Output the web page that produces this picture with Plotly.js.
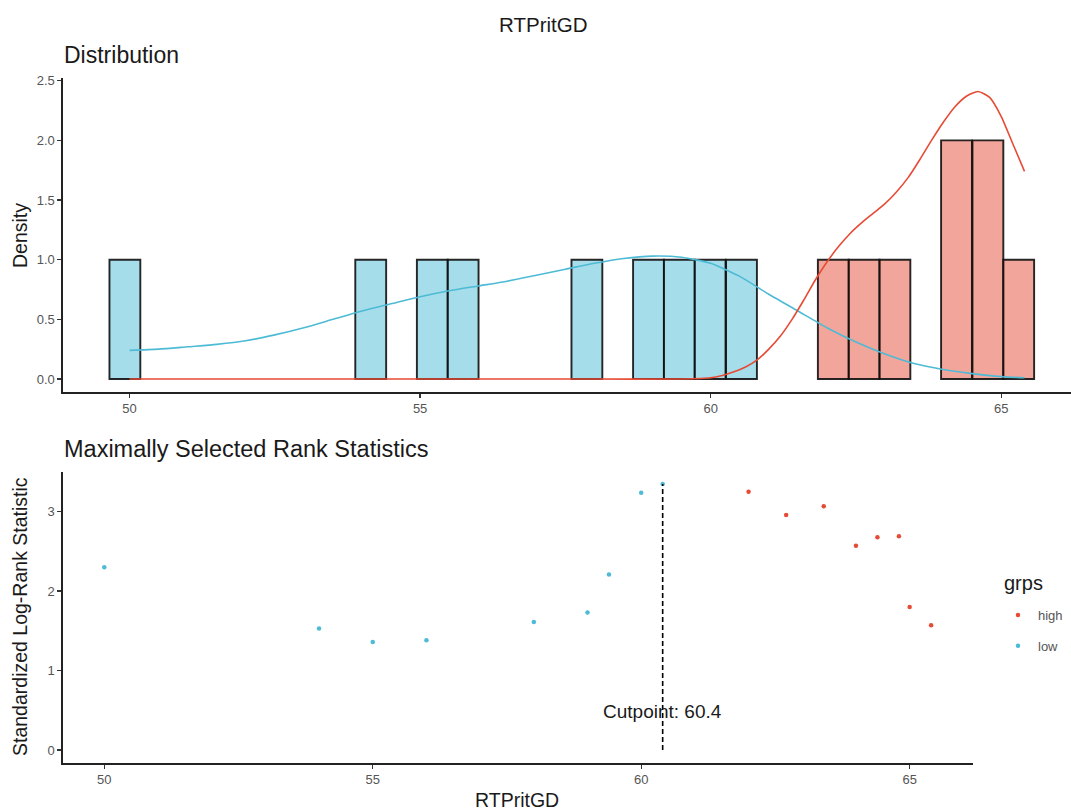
<!DOCTYPE html>
<html>
<head>
<meta charset="utf-8">
<script src="https://cdn.plot.ly/plotly-3.0.1.min.js"></script>
<style>
  html, body { margin: 0; padding: 0; background: #ffffff; }
  #chart { width: 1071px; height: 812px; }
</style>
</head>
<body>
<div id="chart"></div>
<script>
// ---- Histogram (top panel) ----
const binWidth = 0.531;
const lowBinCenters  = [49.92, 54.15, 55.21, 55.74, 57.87, 58.93, 59.46, 59.99, 60.53];
const lowBinCounts   = [1, 1, 1, 1, 1, 1, 1, 1, 1];
const highBinCenters = [62.11, 62.64, 63.17, 64.23, 64.77, 65.30];
const highBinCounts  = [1, 1, 1, 2, 2, 1];

// ---- Density curves (top panel) ----
const densLowX  = [50.0, 50.5, 51.0, 51.5, 52.0, 52.5, 53.0, 53.5, 54.0, 54.5, 55.0, 55.5, 56.0, 56.5, 57.0, 57.5, 58.0, 58.5, 59.0, 59.5, 60.0, 60.5, 61.0, 61.5, 62.0, 62.5, 63.0, 63.5, 64.0, 64.5, 65.0, 65.4];
const densLowY  = [0.24, 0.25, 0.27, 0.29, 0.32, 0.37, 0.43, 0.50, 0.57, 0.63, 0.69, 0.74, 0.78, 0.82, 0.87, 0.92, 0.97, 1.01, 1.03, 1.02, 0.97, 0.86, 0.71, 0.57, 0.43, 0.31, 0.21, 0.13, 0.08, 0.045, 0.02, 0.01];
const densHighX = [50.0, 55.0, 58.0, 59.5, 60.0, 60.2, 60.4, 60.6, 60.8, 61.0, 61.2, 61.4, 61.6, 61.8, 62.0, 62.2, 62.4, 62.6, 62.8, 63.0, 63.2, 63.4, 63.6, 63.8, 64.0, 64.2, 64.4, 64.6, 64.8, 65.0, 65.2, 65.4];
const densHighY = [0.0, 0.0, 0.0, 0.0, 0.01, 0.03, 0.06, 0.10, 0.16, 0.25, 0.36, 0.50, 0.66, 0.83, 0.98, 1.11, 1.22, 1.31, 1.39, 1.47, 1.57, 1.69, 1.84, 2.00, 2.15, 2.28, 2.37, 2.41, 2.36, 2.20, 1.97, 1.74];

// ---- Maximally selected rank statistics (bottom panel) ----
const statLowX  = [50.0, 54.0, 55.0, 56.0, 58.0, 59.0, 59.4, 60.0, 60.4];
const statLowY  = [2.30, 1.53, 1.36, 1.38, 1.61, 1.73, 2.21, 3.24, 3.35];
const statHighX = [62.0, 62.7, 63.4, 64.0, 64.4, 64.8, 65.0, 65.4];
const statHighY = [3.25, 2.96, 3.07, 2.57, 2.68, 2.69, 1.80, 1.57];
const cutpoint = 60.4;

const xTicks = [50, 55, 60, 65];
const densTicks = [0, 0.5, 1, 1.5, 2, 2.5];
const statTicks = [0, 1, 2, 3];

const RED = '#E64B35', BLUE = '#4DBBD5';
const FONT = 'Liberation Sans, Arial, sans-serif';

const traces = [
  { type: 'bar', x: lowBinCenters, y: lowBinCounts, width: binWidth, xaxis: 'x', yaxis: 'y',
    marker: { color: 'rgba(77,187,213,0.5)', line: { color: 'rgba(15,15,15,0.9)', width: 1.9 } },
    showlegend: false, hoverinfo: 'skip' },
  { type: 'bar', x: highBinCenters, y: highBinCounts, width: binWidth, xaxis: 'x', yaxis: 'y',
    marker: { color: 'rgba(230,75,53,0.5)', line: { color: 'rgba(15,15,15,0.9)', width: 1.9 } },
    showlegend: false, hoverinfo: 'skip' },
  { type: 'scatter', mode: 'lines', x: densLowX, y: densLowY, xaxis: 'x', yaxis: 'y',
    line: { color: BLUE, width: 1.6, shape: 'spline', smoothing: 0.6 }, showlegend: false, hoverinfo: 'skip' },
  { type: 'scatter', mode: 'lines', x: densHighX, y: densHighY, xaxis: 'x', yaxis: 'y',
    line: { color: RED, width: 1.6, shape: 'spline', smoothing: 0.6 }, showlegend: false, hoverinfo: 'skip' },
  { type: 'scatter', mode: 'markers', name: 'high', legendgroup: 'high', x: statHighX, y: statHighY,
    xaxis: 'x2', yaxis: 'y2', marker: { color: RED, size: 4.5 } },
  { type: 'scatter', mode: 'markers', name: 'low', legendgroup: 'low', x: statLowX, y: statLowY,
    xaxis: 'x2', yaxis: 'y2', marker: { color: BLUE, size: 4.5 } },
  { type: 'scatter', mode: 'lines', x: [cutpoint, cutpoint], y: [0, Math.max(...statLowY, ...statHighY)],
    xaxis: 'x2', yaxis: 'y2', line: { color: 'black', width: 1.6, dash: '5px,3px' },
    showlegend: false, hoverinfo: 'skip' }
];

const W = 1071, H = 812;
const axisCommon = {
  showline: true, linecolor: '#222', linewidth: 1.6, mirror: false,
  ticks: 'outside', ticklen: 4, tickwidth: 1.3, tickcolor: '#333',
  showgrid: false, zeroline: false,
  tickfont: { family: FONT, size: 13, color: '#555' }
};

const layout = {
  width: W, height: H,
  margin: { l: 0, r: 0, t: 0, b: 0 },
  paper_bgcolor: 'white', plot_bgcolor: 'white',
  barmode: 'overlay', bargap: 0,
  font: { family: FONT, color: '#1a1a1a' },
  xaxis: Object.assign({}, axisCommon, { domain: [63 / W, 1], range: [48.855, 66.2], anchor: 'y',
    tickvals: xTicks }),
  yaxis: Object.assign({}, axisCommon, { domain: [(H - 392) / H, (H - 78) / H], range: [-0.109, 2.523], anchor: 'x',
    tickvals: densTicks, tickformat: '.1f' }),
  xaxis2: Object.assign({}, axisCommon, { domain: [63 / W, 973 / W], range: [49.231, 66.18], anchor: 'y2',
    tickvals: xTicks }),
  yaxis2: Object.assign({}, axisCommon, { domain: [(H - 763) / H, (H - 472) / H], range: [-0.164, 3.50], anchor: 'x2',
    tickvals: statTicks }),
  showlegend: true,
  legend: {
    x: 998 / W, xanchor: 'left', y: (H - 600) / H, yanchor: 'top',
    font: { family: FONT, size: 13, color: '#555' },
    traceorder: 'grouped', tracegroupgap: 11, itemwidth: 30, bgcolor: 'rgba(0,0,0,0)'
  },
  annotations: [
    { text: 'RTPritGD', xref: 'paper', yref: 'paper', x: 543 / W, y: (H - 25) / H,
      xanchor: 'center', yanchor: 'middle', showarrow: false, font: { family: FONT, size: 20.5, color: '#1a1a1a' } },
    { text: 'Distribution', xref: 'paper', yref: 'paper', x: 62 / W, y: (H - 55) / H,
      xanchor: 'left', yanchor: 'middle', showarrow: false, font: { family: FONT, size: 23, color: '#1a1a1a' } },
    { text: 'Maximally Selected Rank Statistics', xref: 'paper', yref: 'paper', x: 62 / W, y: (H - 449) / H,
      xanchor: 'left', yanchor: 'middle', showarrow: false, font: { family: FONT, size: 23.5, color: '#1a1a1a' } },
    { text: 'Density', xref: 'paper', yref: 'paper', x: 20 / W, y: (H - 236) / H, textangle: -90,
      xanchor: 'center', yanchor: 'middle', showarrow: false, font: { family: FONT, size: 19.5, color: '#1a1a1a' } },
    { text: 'Standardized Log-Rank Statistic', xref: 'paper', yref: 'paper', x: 20 / W, y: (H - 617) / H, textangle: -90,
      xanchor: 'center', yanchor: 'middle', showarrow: false, font: { family: FONT, size: 19.5, color: '#1a1a1a' } },
    { text: 'RTPritGD', xref: 'paper', yref: 'paper', x: 517 / W, y: (H - 800) / H,
      xanchor: 'center', yanchor: 'middle', showarrow: false, font: { family: FONT, size: 19.5, color: '#1a1a1a' } },
    { text: 'Cutpoint: ' + cutpoint, xref: 'x2', yref: 'y2', x: cutpoint, y: 0.48,
      xanchor: 'center', yanchor: 'middle', showarrow: false, font: { family: FONT, size: 19, color: '#1a1a1a' } },
    { text: 'grps', xref: 'paper', yref: 'paper', x: 1002 / W, y: (H - 583) / H,
      xanchor: 'left', yanchor: 'middle', showarrow: false, font: { family: FONT, size: 20, color: '#1a1a1a' } }
  ]
};

Plotly.newPlot('chart', traces, layout, { displayModeBar: false, staticPlot: true });
</script>
</body>
</html>
